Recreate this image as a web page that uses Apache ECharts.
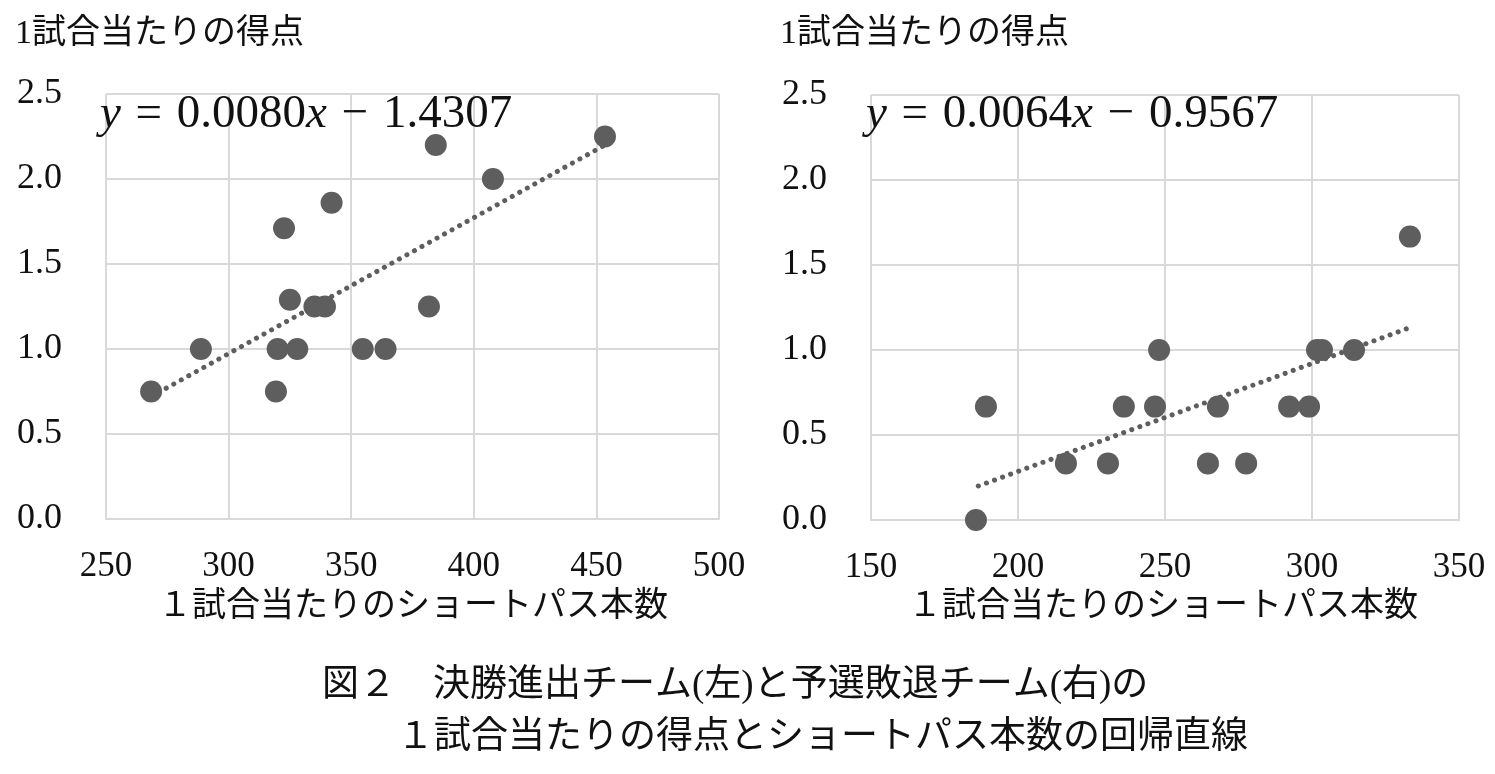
<!DOCTYPE html>
<html>
<head>
<meta charset="utf-8">
<script src="https://cdn.jsdelivr.net/npm/echarts@6/dist/echarts.min.js"></script>
<style>
html, body { margin: 0; padding: 0; background: #fff; }
#main { width: 1495px; height: 774px; }
</style>
</head>
<body>
<div id="main"></div>
<script>
// 決勝進出チーム（左）
var leftPass  = [268.4, 288.7, 319.3, 320.0, 322.6, 325.0, 328.0, 335.0, 339.3, 342.0, 354.7, 364.0, 381.7, 384.5, 407.8, 453.5];
var leftScore = [0.75, 1.00, 0.75, 1.00, 1.71, 1.29, 1.00, 1.25, 1.25, 1.86, 1.00, 1.00, 1.25, 2.20, 2.00, 2.25];
var leftTrendX = [268.4, 453.5];
var leftTrendY = [0.72, 2.20];

// 予選敗退チーム（右）
var rightPass  = [185.7, 189.1, 216.3, 230.6, 236.0, 246.6, 248.0, 268.0, 264.6, 277.6, 292.2, 299.0, 301.7, 303.4, 314.3, 333.3];
var rightScore = [0.00, 0.667, 0.333, 0.333, 0.667, 0.667, 1.00, 0.667, 0.333, 0.333, 0.667, 0.667, 1.00, 1.00, 1.00, 1.667];
var rightTrendX = [186.5, 333.0];
var rightTrendY = [0.20, 1.13];

var leftTicks  = [250, 500, 50];
var rightTicks = [150, 350, 50];
var yTicks = [0, 2.5, 0.5];

var yTitle = '1試合当たりの得点';
var xTitle = '１試合当たりのショートパス本数';
var eqLeft  = ['0.0080', '1.4307'];
var eqRight = ['0.0064', '0.9567'];
var caption1 = '図２　決勝進出チーム(左)と予選敗退チーム(右)の';
var caption2 = '１試合当たりの得点とショートパス本数の回帰直線';

var jpFont = "'Liberation Serif', 'Noto Sans CJK JP', serif";
var numFont = "'Liberation Serif', 'DejaVu Serif', serif";
var gridColor = '#d9d9d9';
var dotColor = '#5e5e5e';

function pairs(xs, ys) {
    var out = [];
    for (var i = 0; i < xs.length; i++) out.push([xs[i], ys[i]]);
    return out;
}

function xAxisOf(idx, ticks) {
    return {
        type: 'value', gridIndex: idx,
        min: ticks[0], max: ticks[1], interval: ticks[2],
        axisLine: { show: true, lineStyle: { color: gridColor, width: 2 } },
        axisTick: { show: false },
        splitLine: { show: true, lineStyle: { color: gridColor, width: 2 } },
        axisLabel: { color: '#111', fontFamily: numFont, fontSize: 35, margin: 30 }
    };
}
function yAxisOf(idx) {
    return {
        type: 'value', gridIndex: idx,
        min: yTicks[0], max: yTicks[1], interval: yTicks[2],
        axisLine: { show: false },
        axisTick: { show: false },
        splitLine: { show: true, lineStyle: { color: gridColor, width: 2 } },
        axisLabel: {
            color: '#111', fontFamily: numFont, fontSize: 36, margin: 44,
            formatter: function (v) { return v.toFixed(1); }
        }
    };
}
// 回帰式（y は斜体、x も斜体）
function eqText(left, top, nums) {
    var base = { fontFamily: numFont, fontSize: 47, fill: '#111' };
    return {
        type: 'text', left: left, top: top, z: 10,
        style: {
            rich: {
                i: Object.assign({ fontStyle: 'italic' }, base),
                n: base,
                op: Object.assign({ padding: [0, 3, 0, 3] }, base)
            },
            text: '{i|y}{op| = }{n|' + nums[0] + '}{i|x}{op| − }{n|' + nums[1] + '}'
        }
    };
}
function textAt(left, top, str, size) {
    return {
        type: 'text', left: left, top: top,
        style: { text: str, fontFamily: jpFont, fontSize: size, fill: '#111' }
    };
}

var myChart = echarts.init(document.getElementById('main'));
var option = {
    backgroundColor: '#fff',
    animation: false,
    grid: [
        { left: 106, right: 776, top: 94, bottom: 255 },
        { left: 871, right: 36, top: 95, bottom: 254 }
    ],
    xAxis: [xAxisOf(0, leftTicks), xAxisOf(1, rightTicks)],
    yAxis: [yAxisOf(0), yAxisOf(1)],
    series: [
        {
            type: 'line', xAxisIndex: 0, yAxisIndex: 0, z: 2,
            data: pairs(leftTrendX, leftTrendY), symbol: 'none',
            lineStyle: { color: dotColor, width: 5, type: [0.1, 8.5], cap: 'round' }
        },
        {
            type: 'scatter', xAxisIndex: 0, yAxisIndex: 0, z: 3,
            data: pairs(leftPass, leftScore), symbolSize: 22,
            itemStyle: { color: dotColor, opacity: 1 }
        },
        {
            type: 'line', xAxisIndex: 1, yAxisIndex: 1, z: 2,
            data: pairs(rightTrendX, rightTrendY), symbol: 'none',
            lineStyle: { color: dotColor, width: 5, type: [0.1, 8.5], cap: 'round' }
        },
        {
            type: 'scatter', xAxisIndex: 1, yAxisIndex: 1, z: 3,
            data: pairs(rightPass, rightScore), symbolSize: 22,
            itemStyle: { color: dotColor, opacity: 1 }
        }
    ],
    graphic: [
        textAt(15, 17, yTitle, 34),
        textAt(780, 17, yTitle, 34),
        textAt(158, 590, xTitle, 34),
        textAt(908, 590, xTitle, 34),
        textAt(322, 668, caption1, 37),
        textAt(397, 720, caption2, 37),
        eqText(100, 91, eqLeft),
        eqText(866, 91, eqRight)
    ]
};
myChart.setOption(option);
</script>
</body>
</html>
